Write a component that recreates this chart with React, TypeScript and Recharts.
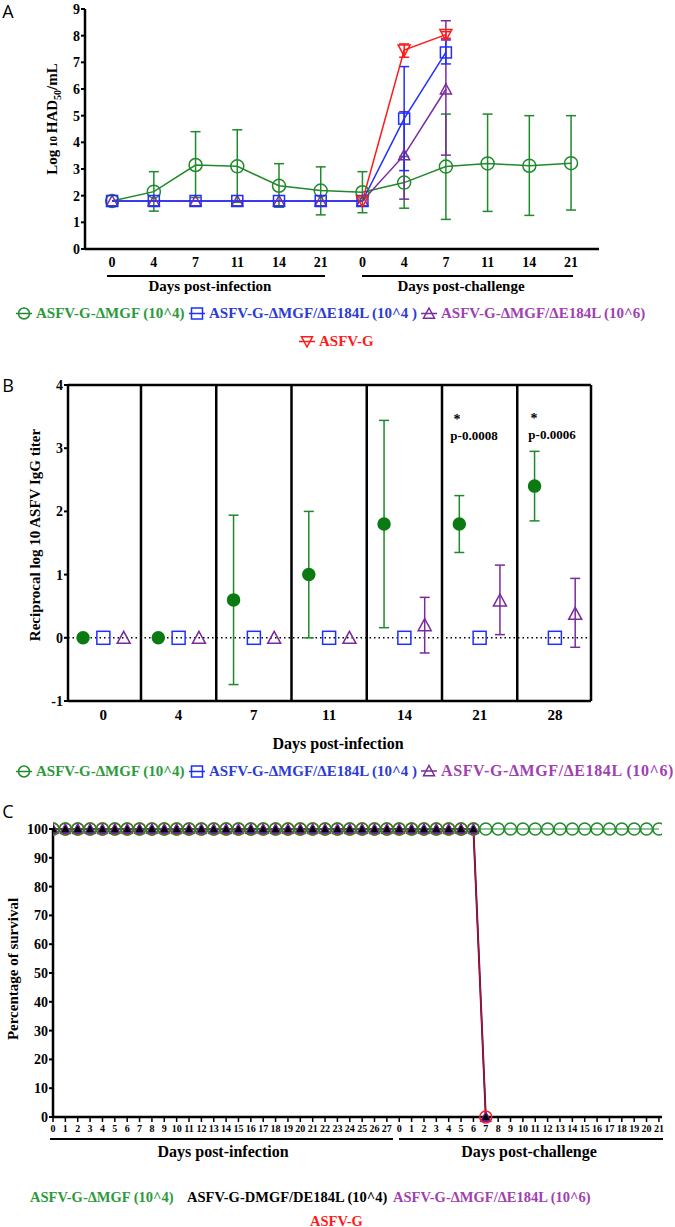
import React from 'react'
import { ComposedChart, Line, Scatter, XAxis, YAxis, ErrorBar, ReferenceLine } from 'recharts'

const SERIF = '"Liberation Serif", "Times New Roman", serif'
const GREEN = '#1f8a2a'
const GREEN_TXT = '#2a9a3a'
const DARK_GREEN = '#0b7a12'
const BLUE = '#1f2fff'
const BLUE_TXT = '#2a3bd8'
const PURPLE = '#7a2a9e'
const PURPLE_TXT = '#a040b0'
const RED = '#ff1a1a'
const DARK_RED = '#a0182c'

// ---- panel A: virus titres in blood
const daysA = ['0', '4', '7', '11', '14', '21', '0', '4', '7', '11', '14', '21']
const mgfMean = [1.8, 2.15, 3.15, 3.1, 2.37, 2.19, 2.13, 2.49, 3.09, 3.21, 3.12, 3.22]
const mgfLow = [null, 1.42, 1.93, 1.75, 1.57, 1.28, 1.36, 1.53, 1.11, 1.41, 1.26, 1.46]
const mgfHigh = [null, 2.9, 4.4, 4.47, 3.2, 3.08, 2.9, 3.47, 5.06, 5.06, 5.0, 5.0]
const e184Mean = [1.8, 1.8, 1.8, 1.8, 1.8, 1.8, 1.8, 4.89, 7.37, null, null, null]
const e184Low = [null, null, null, null, null, null, null, 2.94, 6.94, null, null, null]
const e184High = [null, null, null, null, null, null, null, 6.84, 7.84, null, null, null]
const e184HiMean = [1.8, 1.8, 1.8, 1.8, 1.8, 1.8, 1.8, 3.52, 5.99, null, null, null]
const e184HiLow = [null, null, null, null, null, null, null, 1.87, 3.52, null, null, null]
const e184HiHigh = [null, null, null, null, null, null, null, 5.15, 8.56, null, null, null]
const asfvMean = [null, null, null, null, null, null, 1.8, 7.46, 8.04, null, null, null]
const asfvLow = [null, null, null, null, null, null, null, 7.19, 7.9, null, null, null]
const asfvHigh = [null, null, null, null, null, null, null, 7.69, 8.15, null, null, null]
const ticksA = [0, 1, 2, 3, 4, 5, 6, 7, 8, 9]

// ---- panel B: IgG titres
const daysB = ['0', '4', '7', '11', '14', '21', '28']
const igMgf = [0, 0, 0.6, 1.0, 1.8, 1.8, 2.4]
const igMgfLow = [null, null, -0.74, 0, 0.16, 1.35, 1.85]
const igMgfHigh = [null, null, 1.94, 2.0, 3.44, 2.25, 2.95]
const igE184 = [0, 0, 0, 0, 0, 0, 0]
const igE184Hi = [0, 0, 0, 0, 0.2, 0.59, 0.38]
const igE184HiLow = [null, null, null, null, -0.24, 0.05, -0.15]
const igE184HiHigh = [null, null, null, null, 0.64, 1.15, 0.94]
const ticksB = [-1, 0, 1, 2, 3, 4]

// ---- panel C: survival
const daysC = [
  '0', '1', '2', '3', '4', '5', '6', '7', '8', '9', '10', '11', '12', '13', '14', '15', '16', '17', '18', '19', '20', '21', '22', '23', '24', '25', '26', '27',
  '0', '1', '2', '3', '4', '5', '6', '7', '8', '9', '10', '11', '12', '13', '14', '15', '16', '17', '18', '19', '20', '21',
]
const survMgf = [
  100, 100, 100, 100, 100, 100, 100, 100, 100, 100, 100, 100, 100, 100, 100, 100, 100, 100, 100, 100, 100, 100, 100, 100, 100, 100, 100, 100,
  100, 100, 100, 100, 100, 100, 100, 100, 100, 100, 100, 100, 100, 100, 100, 100, 100, 100, 100, 100, 100, 100,
]
const survE184 = [
  100, 100, 100, 100, 100, 100, 100, 100, 100, 100, 100, 100, 100, 100, 100, 100, 100, 100, 100, 100, 100, 100, 100, 100, 100, 100, 100, 100,
  100, 100, 100, 100, 100, 100, 100, 0,
]
const survE184Hi = [
  100, 100, 100, 100, 100, 100, 100, 100, 100, 100, 100, 100, 100, 100, 100, 100, 100, 100, 100, 100, 100, 100, 100, 100, 100, 100, 100, 100,
  100, 100, 100, 100, 100, 100, 100, 0,
]
const survAsfv = [
  100, 100, 100, 100, 100, 100, 100, 100, 100, 100, 100, 100, 100, 100, 100, 100, 100, 100, 100, 100, 100, 100, 100, 100, 100, 100, 100, 100,
  100, 100, 100, 100, 100, 100, 100, 0,
]
const ticksC = [0, 10, 20, 30, 40, 50, 60, 70, 80, 90, 100]

const err = (m: number | null, lo: number | null, hi: number | null) =>
  m == null || lo == null || hi == null ? undefined : [m - lo, hi - m]

const tableA = daysA.map((_, i) => ({
  i,
  mgf: mgfMean[i],
  mgfErr: err(mgfMean[i], mgfLow[i], mgfHigh[i]),
  e184: e184Mean[i],
  e184Err: err(e184Mean[i], e184Low[i], e184High[i]),
  e184Hi: e184HiMean[i],
  e184HiErr: err(e184HiMean[i], e184HiLow[i], e184HiHigh[i]),
  asfv: asfvMean[i],
  asfvErr: err(asfvMean[i], asfvLow[i], asfvHigh[i]),
}))

const SHIFT = 0.27
const scatterMgf = daysB.map((_, i) => ({ x: i - SHIFT, y: igMgf[i], e: err(igMgf[i], igMgfLow[i], igMgfHigh[i]) }))
const scatterE184 = daysB.map((_, i) => ({ x: i, y: igE184[i] }))
const scatterE184Hi = daysB.map((_, i) => ({ x: i + SHIFT, y: igE184Hi[i], e: err(igE184Hi[i], igE184HiLow[i], igE184HiHigh[i]) }))

const tableC = daysC.map((_, i) => ({
  i,
  mgf: survMgf[i] ?? null,
  e184: survE184[i] ?? null,
  e184Hi: survE184Hi[i] ?? null,
  asfv: survAsfv[i] ?? null,
}))

function Marker({ kind, x, y, s, color, fill = 'none', sw = 1.5 }: any) {
  const h = s / 2
  if (kind === 'circle') return <circle cx={x} cy={y} r={h} stroke={color} strokeWidth={sw} fill={fill} />
  if (kind === 'square') return <rect x={x - h} y={y - h} width={s} height={s} stroke={color} strokeWidth={sw} fill={fill} />
  if (kind === 'tri')
    return <polygon points={`${x - h},${y + h * 0.85} ${x + h},${y + h * 0.85} ${x},${y - h}`} stroke={color} strokeWidth={sw} fill={fill} />
  return <polygon points={`${x - h},${y - h * 0.85} ${x + h},${y - h * 0.85} ${x},${y + h}`} stroke={color} strokeWidth={sw} fill={fill} />
}

const dot = (kind: string, color: string, s: number, fill = 'none', sw = 1.5) => (p: any) => {
  const { cx, cy, index, value } = p
  if (value == null || cx == null || cy == null || Number.isNaN(cy)) return <g key={`m${index}`} />
  return <Marker key={`m${index}`} kind={kind} x={cx} y={cy} s={s} color={color} fill={fill} sw={sw} />
}

const shape = (kind: string, color: string, s: number, fill = 'none') => (p: any) => (
  <Marker kind={kind} x={p.cx} y={p.cy} s={s} color={color} fill={fill} />
)

const tickFont = { fontFamily: SERIF, fontWeight: 700, fontSize: 14, fill: '#000' }

function Text({ x, y, size = 15, color = '#000', rotate = false, weight = 700, family = SERIF, children }: any) {
  return (
    <div
      style={{
        position: 'absolute',
        left: x,
        top: y,
        transform: `translate(-50%, -50%)${rotate ? ' rotate(-90deg)' : ''}`,
        whiteSpace: 'nowrap',
        fontFamily: family,
        fontWeight: weight,
        fontSize: size,
        color,
        lineHeight: 1,
      }}
    >
      {children}
    </div>
  )
}

function Rule({ x1, x2, y }: any) {
  return <div style={{ position: 'absolute', left: x1, top: y - 1.25, width: x2 - x1, height: 2.5, background: '#000' }} />
}

function LegendItem({ x, y, kind, color, textColor, label, size = 15, spacing = 0 }: any) {
  return (
    <div style={{ position: 'absolute', left: x, top: y, transform: 'translateY(-50%)', display: 'flex', alignItems: 'center', whiteSpace: 'nowrap' }}>
      {kind && (
        <svg width={16} height={14} style={{ marginRight: 4 }}>
          <line x1={0} y1={7} x2={16} y2={7} stroke={color} strokeWidth={1.5} />
          <Marker kind={kind} x={8} y={7} s={11} color={color} />
        </svg>
      )}
      <span style={{ fontFamily: SERIF, fontWeight: 700, fontSize: size, color: textColor, letterSpacing: spacing }}>{label}</span>
    </div>
  )
}

const chartStyle = { fontFamily: SERIF }

function PanelA() {
  return (
    <div style={{ position: 'absolute', left: 0, top: 0 }}>
      <ComposedChart width={675} height={290} data={tableA} style={chartStyle} margin={{ top: 9, right: 76, left: 45, bottom: 11 }}>
        <XAxis
          type="number"
          dataKey="i"
          domain={[-0.65, 11.67]}
          allowDataOverflow
          ticks={daysA.map((_, i) => i)}
          interval={0}
          tickFormatter={(v: number) => daysA[v]}
          tick={tickFont}
          tickLine={false}
          axisLine={{ stroke: '#000', strokeWidth: 2.5 }}
          height={30}
        />
        <YAxis
          domain={[0, 9]}
          ticks={ticksA}
          interval={0}
          tick={tickFont}
          tickSize={4}
          tickMargin={1}
          tickLine={{ stroke: '#000', strokeWidth: 2 }}
          axisLine={{ stroke: '#000', strokeWidth: 2.5 }}
          width={40}
        />
        <Line dataKey="mgf" stroke={GREEN} strokeWidth={1.5} dot={dot('circle', GREEN, 13)} isAnimationActive={false}>
          <ErrorBar dataKey="mgfErr" width={5} stroke={GREEN} strokeWidth={1.5} />
        </Line>
        <Line dataKey="e184Hi" stroke={PURPLE} strokeWidth={1.5} dot={dot('tri', PURPLE, 11)} isAnimationActive={false}>
          <ErrorBar dataKey="e184HiErr" width={5} stroke={PURPLE} strokeWidth={1.5} />
        </Line>
        <Line dataKey="e184" stroke={BLUE} strokeWidth={1.5} dot={dot('square', BLUE, 11)} isAnimationActive={false}>
          <ErrorBar dataKey="e184Err" width={5} stroke={BLUE} strokeWidth={1.5} />
        </Line>
        <Line dataKey="asfv" stroke={RED} strokeWidth={1.5} dot={dot('itri', RED, 12)} isAnimationActive={false}>
          <ErrorBar dataKey="asfvErr" width={5} stroke={RED} strokeWidth={1.5} />
        </Line>
      </ComposedChart>
    </div>
  )
}

function PanelB() {
  const seps = daysB.slice(1).map((_, i) => i + 0.5)
  return (
    <div style={{ position: 'absolute', left: 0, top: 370 }}>
      <ComposedChart width={675} height={390} style={chartStyle} margin={{ top: 15, right: 84, left: 28, bottom: 29 }}>
        <XAxis
          type="number"
          dataKey="x"
          domain={[-0.47, 6.48]}
          allowDataOverflow
          ticks={daysB.map((_, i) => i)}
          interval={0}
          tickFormatter={(v: number) => daysB[v]}
          tick={{ ...tickFont, fontSize: 15 }}
          tickLine={false}
          axisLine={{ stroke: '#000', strokeWidth: 2.5 }}
          height={30}
        />
        <YAxis
          type="number"
          dataKey="y"
          domain={[-1, 4]}
          allowDataOverflow
          ticks={ticksB}
          interval={0}
          tick={tickFont}
          tickSize={4}
          tickMargin={1}
          tickLine={{ stroke: '#000', strokeWidth: 2 }}
          axisLine={{ stroke: '#000', strokeWidth: 2.5 }}
          width={40}
        />
        {seps.map((s) => (
          <ReferenceLine key={s} x={s} stroke="#000" strokeWidth={2.5} />
        ))}
        <ReferenceLine x={6.48} stroke="#000" strokeWidth={2.5} />
        <ReferenceLine y={4} stroke="#000" strokeWidth={2.5} />
        <ReferenceLine y={0} stroke="#000" strokeWidth={1.5} strokeDasharray="1.5 3" />
        <Scatter data={scatterMgf} dataKey="y" shape={shape('circle', DARK_GREEN, 12, DARK_GREEN)} isAnimationActive={false}>
          <ErrorBar dataKey="e" direction="y" width={5} stroke={GREEN} strokeWidth={1.5} />
        </Scatter>
        <Scatter data={scatterE184} dataKey="y" shape={shape('square', BLUE, 13)} isAnimationActive={false} />
        <Scatter data={scatterE184Hi} dataKey="y" shape={shape('tri', PURPLE, 13)} isAnimationActive={false}>
          <ErrorBar dataKey="e" direction="y" width={5} stroke={PURPLE} strokeWidth={1.5} />
        </Scatter>
      </ComposedChart>
    </div>
  )
}

function PanelC() {
  return (
    <div style={{ position: 'absolute', left: 0, top: 800 }}>
      <ComposedChart width={675} height={345} data={tableC} style={chartStyle} margin={{ top: 29, right: 13, left: 13, bottom: 8 }}>
        <XAxis
          type="number"
          dataKey="i"
          domain={[0, 49.25]}
          allowDataOverflow
          ticks={daysC.map((_, i) => i)}
          interval={0}
          tickFormatter={(v: number) => daysC[v]}
          tick={{ ...tickFont, fontSize: 10 }}
          tickSize={5}
          tickMargin={3}
          tickLine={{ stroke: '#000', strokeWidth: 1.5 }}
          axisLine={{ stroke: '#000', strokeWidth: 2.5 }}
          height={20}
        />
        <YAxis
          domain={[0, 100]}
          ticks={ticksC}
          interval={0}
          tick={tickFont}
          tickSize={4}
          tickMargin={1}
          tickLine={{ stroke: '#000', strokeWidth: 2 }}
          axisLine={{ stroke: '#000', strokeWidth: 2.5 }}
          width={40}
        />
        <Line dataKey="e184Hi" stroke={PURPLE} strokeWidth={2} dot={dot('tri', '#6a1b9a', 11, '#6a1b9a', 1)} isAnimationActive={false} />
        <Line dataKey="e184" stroke="#000" strokeWidth={1} dot={dot('tri', '#000', 6, '#000', 1)} isAnimationActive={false} />
        <Line dataKey="asfv" stroke={DARK_RED} strokeWidth={1.5} dot={dot('circle', RED, 12)} isAnimationActive={false} />
        <Line dataKey="mgf" stroke={GREEN} strokeWidth={1.2} dot={dot('circle', GREEN, 12)} isAnimationActive={false} />
      </ComposedChart>
    </div>
  )
}

export default function App() {
  return (
    <div style={{ position: 'absolute', left: 0, top: 0, width: 675, height: 1227, background: '#fff', overflow: 'hidden', fontFamily: SERIF }}>
      {/* panel letters */}
      <Text x={8} y={11} size={18} weight={400} family='"Open Sans", sans-serif'>A</Text>
      <Text x={8} y={385} size={18} weight={400} family='"Open Sans", sans-serif'>B</Text>
      <Text x={8} y={811} size={18} weight={400} family='"Open Sans", sans-serif'>C</Text>

      <PanelA />
      <Text x={54} y={119} rotate>
        Log<span style={{ fontSize: 11 }}> 10 </span>HAD<sub style={{ fontSize: 10 }}>50</sub>/mL
      </Text>
      <Rule x1={107} x2={325} y={276} />
      <Rule x1={362} x2={573} y={276} />
      <Text x={210} y={286}>Days post-infection</Text>
      <Text x={461} y={286}>Days post-challenge</Text>
      <LegendItem x={16} y={313} kind="circle" color={GREEN} textColor={GREEN_TXT} label="ASFV-G-ΔMGF (10^4)" />
      <LegendItem x={189} y={313} kind="square" color={BLUE} textColor={BLUE_TXT} label="ASFV-G-ΔMGF/ΔE184L (10^4 )" />
      <LegendItem x={421} y={313} kind="tri" color={PURPLE} textColor={PURPLE_TXT} label="ASFV-G-ΔMGF/ΔE184L (10^6)" />
      <LegendItem x={299} y={341} kind="itri" color={RED} textColor={RED} label="ASFV-G" />

      <PanelB />
      <Text x={35} y={535} rotate>Reciprocal log 10 ASFV IgG titer</Text>
      <Text x={338} y={744} size={16}>Days post-infection</Text>
      <Text x={457} y={420} size={14}>*</Text>
      <Text x={474} y={435} size={13}>p-0.0008</Text>
      <Text x={534} y={419} size={14}>*</Text>
      <Text x={552} y={434} size={13}>p-0.0006</Text>
      <LegendItem x={16} y={771} kind="circle" color={GREEN} textColor={GREEN_TXT} label="ASFV-G-ΔMGF (10^4)" />
      <LegendItem x={189} y={771} kind="square" color={BLUE} textColor={BLUE_TXT} label="ASFV-G-ΔMGF/ΔE184L (10^4 )" />
      <LegendItem x={421} y={771} kind="tri" color={PURPLE} textColor={PURPLE_TXT} label="ASFV-G-ΔMGF/ΔE184L (10^6)" size={16} spacing={0.6} />

      <PanelC />
      <Text x={13} y={969} rotate>Percentage of survival</Text>
      <Rule x1={50} x2={393} y={1139} />
      <Rule x1={399} x2={663} y={1139} />
      <Text x={223} y={1152} size={16}>Days post-infection</Text>
      <Text x={529} y={1152} size={16}>Days post-challenge</Text>
      <LegendItem x={30} y={1197} color={GREEN} textColor={GREEN_TXT} label="ASFV-G-ΔMGF (10^4)" size={14.5} />
      <LegendItem x={187} y={1197} color="#000" textColor="#000" label="ASFV-G-DMGF/DE184L (10^4)" size={14.5} />
      <LegendItem x={393} y={1197} color={PURPLE} textColor={PURPLE_TXT} label="ASFV-G-ΔMGF/ΔE184L (10^6)" size={14.5} />
      <LegendItem x={310} y={1221} color={RED} textColor={RED} label="ASFV-G" size={14.5} />
    </div>
  )
}
